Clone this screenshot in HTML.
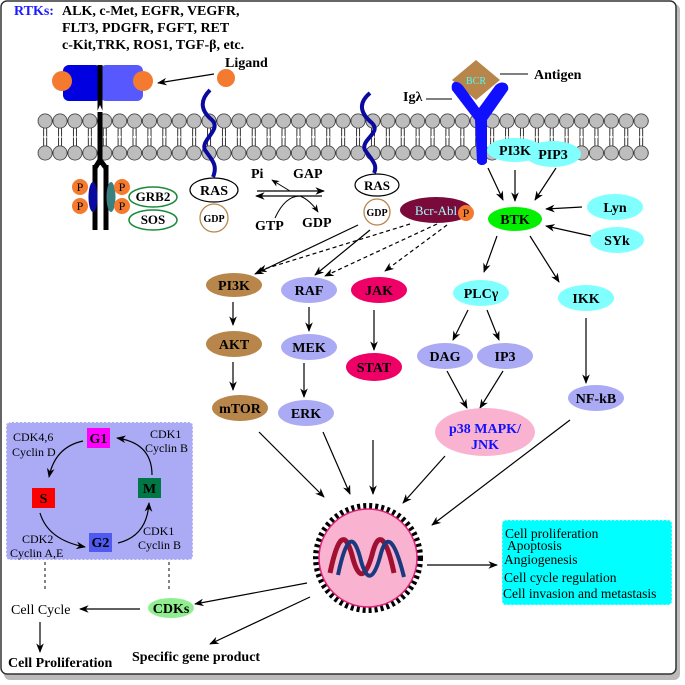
<!DOCTYPE html>
<html><head><meta charset="utf-8"><style>
html,body{margin:0;padding:0;background:#fff;}
svg{display:block;font-family:"Liberation Serif",serif;}
.b{font-weight:bold;}
</style></head><body>
<svg width="685" height="685" viewBox="0 0 685 685" xmlns="http://www.w3.org/2000/svg">
<defs>
<marker id="ar" viewBox="0 0 10 10" refX="9" refY="5" markerWidth="8" markerHeight="8" orient="auto"><path d="M0,1 L10,5 L0,9 L3,5 z" fill="#000"/></marker>
<pattern id="mem" x="37.7" y="0" width="14.9" height="200" patternUnits="userSpaceOnUse">
<line x1="5.9" y1="126" x2="5.9" y2="149" stroke="#000" stroke-width="0.8"/>
<line x1="9" y1="126" x2="9" y2="149" stroke="#000" stroke-width="0.8"/>
<line x1="5.9" y1="137" x2="9" y2="137" stroke="#fff" stroke-width="2"/>
<circle cx="7.45" cy="121" r="7.1" fill="#bdbdbd" stroke="#333" stroke-width="0.8"/>
<circle cx="7.45" cy="153" r="7.1" fill="#bdbdbd" stroke="#333" stroke-width="0.8"/>
</pattern>
</defs>
<rect x="4" y="4" width="676" height="676" rx="6" fill="#bbb"/>
<rect x="1" y="1" width="675" height="673" rx="6" fill="#fff" stroke="#333" stroke-width="1.5"/>

<!-- RTK text -->
<text x="14" y="15" font-size="14" class="b" fill="#1a1aff">RTKs:</text>
<g font-size="14" class="b"><text x="62" y="15">ALK, c-Met, EGFR, VEGFR,</text>
<text x="62" y="32">FLT3, PDGFR, FGFT, RET</text>
<text x="62" y="49">c-Kit,TRK, ROS1, TGF-β, etc.</text></g>

<!-- membrane -->
<rect x="37.7" y="112" width="611" height="51" fill="url(#mem)"/>

<!-- receptor -->
<rect x="63" y="65" width="38" height="36" rx="6" fill="#0000e0"/>
<rect x="100" y="65" width="43" height="36" rx="6" fill="#5858ff"/>
<circle cx="62" cy="81" r="10" fill="#f47a30"/>
<circle cx="143" cy="81" r="10" fill="#f47a30"/>
<path d="M100,65 V165 M95,165 V230 M106,165 V230 M100,160 L95,168 M100,160 L106,168" stroke="#000" stroke-width="5" fill="none"/>
<path d="M100,105 L97,112 L103,112 z" fill="#fff"/>
<ellipse cx="93" cy="197" rx="4.5" ry="15" fill="#0a0aa0"/>
<ellipse cx="111" cy="197" rx="4.5" ry="15" fill="#3a8080"/>
<g fill="#f47a30"><circle cx="80" cy="187" r="8"/><circle cx="80" cy="206" r="8"/><circle cx="122" cy="187" r="8"/><circle cx="122" cy="206" r="8"/></g>
<g font-size="12" fill="#000" text-anchor="middle"><text x="80" y="191">P</text><text x="80" y="210">P</text><text x="122" y="191">P</text><text x="122" y="210">P</text></g>
<ellipse cx="153" cy="197" rx="24" ry="10" fill="#fff" stroke="#1a8a3a" stroke-width="1.5"/>
<ellipse cx="153" cy="220" rx="24" ry="10" fill="#fff" stroke="#1a8a3a" stroke-width="1.5"/>
<g font-size="13" class="b" text-anchor="middle"><text x="153" y="201">GRB2</text><text x="153" y="224">SOS</text></g>

<circle cx="226" cy="78" r="9" fill="#f47a30"/>
<text x="225" y="67" font-size="14" class="b">Ligand</text>
<line x1="214" y1="74" x2="158" y2="83" stroke="#000" stroke-width="1.2" marker-end="url(#ar)"/>

<!-- RAS left -->
<path d="M210,90 C200,100 200,110 212,120 C222,130 200,140 205,150 C212,160 218,165 213,177" stroke="#0a0aa0" stroke-width="4" fill="none"/>
<ellipse cx="214" cy="190" rx="24" ry="12" fill="#fff" stroke="#000" stroke-width="1.2"/>
<text x="214" y="195" font-size="14" class="b" text-anchor="middle">RAS</text>
<circle cx="214" cy="218" r="14" fill="#fff" stroke="#b8864b" stroke-width="1.3"/>
<text x="214" y="222" font-size="10" class="b" text-anchor="middle">GDP</text>

<!-- GAP -->
<line x1="257" y1="191" x2="324" y2="191" stroke="#000" stroke-width="1.2" marker-end="url(#ar)"/>
<line x1="322" y1="196" x2="256" y2="196" stroke="#000" stroke-width="1.2" marker-end="url(#ar)"/>
<path d="M290,191 Q280,185 272,180" stroke="#000" fill="none" marker-end="url(#ar)"/>
<path d="M275,218 Q285,196 300,196 Q310,200 318,212" stroke="#000" fill="none" marker-end="url(#ar)"/>
<g font-size="14" class="b"><text x="251" y="178">Pi</text><text x="293" y="178">GAP</text><text x="255" y="230">GTP</text><text x="302" y="227">GDP</text></g>

<!-- RAS right -->
<path d="M370,93 C358,103 360,113 372,123 C382,133 360,140 365,150 C372,160 378,165 374,173" stroke="#0a0aa0" stroke-width="4" fill="none"/>
<ellipse cx="377" cy="185" rx="22" ry="11" fill="#fff" stroke="#000" stroke-width="1.2"/>
<text x="377" y="190" font-size="13" class="b" text-anchor="middle">RAS</text>
<circle cx="377" cy="212" r="13" fill="#fff" stroke="#b8864b" stroke-width="1.3"/>
<text x="377" y="216" font-size="10" class="b" text-anchor="middle">GDP</text>
<ellipse cx="436" cy="210" rx="36" ry="13" fill="#7a0a3a"/>
<text x="436" y="215" font-size="13" fill="#9ff" text-anchor="middle">Bcr-Abl</text>
<circle cx="466" cy="213" r="8" fill="#f47a30"/>
<text x="466" y="217" font-size="12" text-anchor="middle">P</text>

<!-- BCR -->
<path d="M476,60 L500,80 L476,100 L452,80 z" fill="#b8864b"/>
<text x="476" y="84" font-size="10" fill="#4ff" text-anchor="middle">BCR</text>
<path d="M452,90 C450,80 458,80 463,86 L479,108 L495,86 C500,80 510,82 508,90 L487,120 L487,162 C485,166 479,166 477,162 L475,120 z" fill="#1010ff"/>
<line x1="500" y1="74" x2="528" y2="74" stroke="#000"/>
<text x="534" y="79" font-size="14" class="b">Antigen</text>
<text x="403" y="101" font-size="14" class="b">Igλ</text>
<line x1="426" y1="99" x2="452" y2="99" stroke="#000"/>

<ellipse cx="515" cy="150" rx="28" ry="12" fill="#80ffff"/>
<ellipse cx="553" cy="154" rx="28" ry="13" fill="#80ffff"/>
<text x="515" y="155" font-size="14" class="b" text-anchor="middle">PI3K</text>
<text x="553" y="159" font-size="14" class="b" text-anchor="middle">PIP3</text>
<ellipse cx="515" cy="219" rx="27" ry="12" fill="#00f000"/>
<text x="515" y="224" font-size="14" class="b" text-anchor="middle">BTK</text>
<ellipse cx="615" cy="207" rx="28" ry="13" fill="#80ffff"/>
<text x="615" y="212" font-size="14" class="b" text-anchor="middle">Lyn</text>
<ellipse cx="617" cy="240" rx="27" ry="13" fill="#80ffff"/>
<text x="617" y="245" font-size="14" class="b" text-anchor="middle">SYk</text>
<g stroke="#000" stroke-width="1.2" marker-end="url(#ar)">
<line x1="488" y1="168" x2="503" y2="200"/>
<line x1="515" y1="170" x2="515" y2="201"/>
<line x1="556" y1="168" x2="535" y2="200"/>
<line x1="582" y1="207" x2="546" y2="209"/>
<line x1="591" y1="236" x2="546" y2="226"/>
<line x1="358" y1="225" x2="255" y2="274"/>
<line x1="370" y1="230" x2="315" y2="275"/>
<line x1="497" y1="236" x2="484" y2="272"/>
<line x1="530" y1="236" x2="559" y2="282"/>
<line x1="233" y1="302" x2="233" y2="325"/>
<line x1="233" y1="362" x2="233" y2="390"/>
<line x1="309" y1="307" x2="309" y2="331"/>
<line x1="304" y1="363" x2="304" y2="397"/>
<line x1="374" y1="310" x2="374" y2="350"/>
<line x1="468" y1="310" x2="453" y2="340"/>
<line x1="487" y1="310" x2="499" y2="340"/>
<line x1="586" y1="318" x2="586" y2="383"/>
<line x1="447" y1="371" x2="467" y2="408"/>
<line x1="503" y1="371" x2="480" y2="408"/>
<line x1="259" y1="432" x2="324" y2="497"/>
<line x1="323" y1="432" x2="350" y2="494"/>
<line x1="373" y1="440" x2="373" y2="494"/>
<line x1="445" y1="456" x2="403" y2="503"/>
<line x1="570" y1="420" x2="432" y2="525"/>
<line x1="427" y1="565" x2="497" y2="565"/>
<line x1="307" y1="583" x2="195" y2="604"/>
<line x1="310" y1="597" x2="210" y2="644"/>
<line x1="140" y1="609" x2="80" y2="609"/>
<line x1="40" y1="622" x2="40" y2="652"/>
</g>
<g stroke="#000" stroke-width="1.2" stroke-dasharray="4,3" marker-end="url(#ar)">
<line x1="410" y1="224" x2="258" y2="271"/>
<line x1="437" y1="224" x2="325" y2="276"/>
<line x1="447" y1="225" x2="385" y2="271"/>
</g>

<!-- pathway nodes -->
<g font-size="14" class="b" text-anchor="middle">
<ellipse cx="234" cy="285" rx="28" ry="12" fill="#b8864b"/><text x="234" y="290">PI3K</text>
<ellipse cx="309" cy="290" rx="28" ry="13" fill="#aaaaf5"/><text x="309" y="295">RAF</text>
<ellipse cx="379" cy="290" rx="28" ry="13" fill="#ee0066"/><text x="379" y="295">JAK</text>
<ellipse cx="481" cy="293" rx="28" ry="13" fill="#80ffff"/><text x="481" y="298">PLCγ</text>
<ellipse cx="586" cy="298" rx="28" ry="13" fill="#80ffff"/><text x="586" y="303">IKK</text>
<ellipse cx="234" cy="344" rx="28" ry="13" fill="#b8864b"/><text x="234" y="349">AKT</text>
<ellipse cx="309" cy="347" rx="28" ry="13" fill="#aaaaf5"/><text x="309" y="352">MEK</text>
<ellipse cx="374" cy="367" rx="28" ry="14" fill="#ee0066"/><text x="374" y="372">STAT</text>
<ellipse cx="445" cy="356" rx="28" ry="13" fill="#aaaaf5"/><text x="445" y="361">DAG</text>
<ellipse cx="505" cy="356" rx="28" ry="13" fill="#aaaaf5"/><text x="505" y="361">IP3</text>
<ellipse cx="240" cy="408" rx="28" ry="13" fill="#b8864b"/><text x="240" y="413">mTOR</text>
<ellipse cx="306" cy="413" rx="28" ry="13" fill="#aaaaf5"/><text x="306" y="418">ERK</text>
<ellipse cx="596" cy="398" rx="28" ry="13" fill="#aaaaf5"/><text x="596" y="403">NF-kB</text>
<ellipse cx="485" cy="432" rx="50" ry="24" fill="#f9b3d1"/>
<text x="485" y="433" fill="#1010ff">p38 MAPK/</text><text x="485" y="449" fill="#1010ff">JNK</text>
</g>

<!-- nucleus -->
<circle cx="368" cy="558" r="52" fill="none" stroke="#000" stroke-width="6" stroke-dasharray="3,3"/>
<circle cx="368" cy="558" r="49" fill="#f9b3d1" stroke="#e0207a" stroke-width="1.5"/>
<path d="M330,573 C338,535 345,530 352,555 C358,580 365,580 372,555 C378,530 386,535 394,573" stroke="#a01030" stroke-width="5" fill="none"/>
<path d="M338,575 C346,537 353,532 360,557 C366,582 373,582 380,557 C386,532 394,537 404,577" stroke="#1a3a80" stroke-width="4" fill="none"/>

<!-- output box -->
<rect x="502" y="520" width="170" height="85" rx="4" fill="#00ffff" stroke="#fff" stroke-dasharray="2,2"/>
<g font-size="13.5"><text x="505" y="538">Cell proliferation</text><text x="507" y="550">Apoptosis</text><text x="504" y="564">Angiogenesis</text><text x="504" y="582">Cell cycle regulation</text><text x="503" y="598">Cell invasion and metastasis</text></g>

<!-- cell cycle -->
<rect x="6" y="422" width="187" height="138" rx="4" fill="#aaaaf5" stroke="#fff" stroke-width="1.5" stroke-dasharray="2,2"/>
<rect x="87" y="428" width="23" height="20" fill="#ff00ff"/>
<rect x="32" y="488" width="23" height="20" fill="#ff0000"/>
<rect x="138" y="478" width="23" height="20" fill="#007744"/>
<rect x="89" y="533" width="23" height="19" fill="#4f5bf0"/>
<g font-size="14" class="b" text-anchor="middle"><text x="98.5" y="443">G1</text><text x="43.5" y="503">S</text><text x="149.5" y="493">M</text><text x="100.5" y="547">G2</text></g>
<g stroke="#000" stroke-width="1.2" fill="none" marker-end="url(#ar)">
<path d="M83,441 Q55,447 49,477"/>
<path d="M40,513 Q48,540 85,547"/>
<path d="M118,543 Q147,536 149,503"/>
<path d="M152,475 Q152,443 117,438"/>
</g>
<g font-size="12"><text x="13" y="441">CDK4,6</text><text x="12" y="456">Cyclin D</text>
<text x="150" y="438">CDK1</text><text x="145" y="452">Cyclin B</text>
<text x="22" y="543">CDK2</text><text x="10" y="557">Cyclin A,E</text>
<text x="143" y="535">CDK1</text><text x="138" y="549">Cyclin B</text></g>
<g stroke="#333" stroke-width="1.2" stroke-dasharray="3,3"><line x1="45" y1="562" x2="45" y2="592"/><line x1="169" y1="562" x2="169" y2="592"/></g>
<text x="11" y="614" font-size="14">Cell Cycle</text>
<ellipse cx="171" cy="608" rx="23" ry="10" fill="#90ee90"/>
<text x="171" y="613" font-size="14" class="b" text-anchor="middle">CDKs</text>
<text x="8" y="667" font-size="14" class="b">Cell Proliferation</text>
<text x="132" y="661" font-size="14" class="b">Specific gene product</text>
</svg>
</body></html>
